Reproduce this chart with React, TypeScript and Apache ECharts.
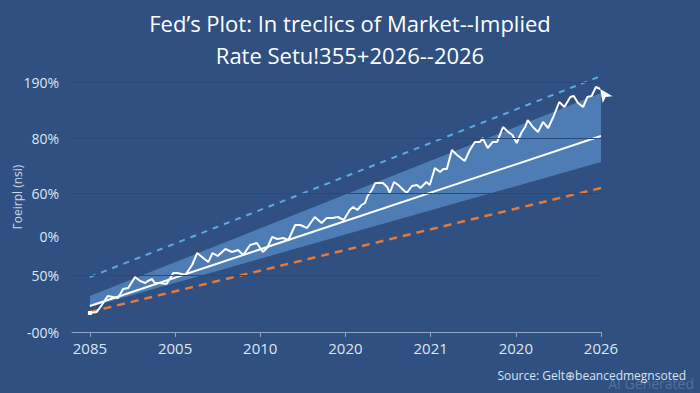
import React, { useEffect, useRef } from "react";
import * as echarts from "echarts";

const titleLines = ["Fed’s Plot: In treclics of Market--Implied", "Rate Setu!355+2026--2026"];
const xTickValues = [0, 1, 2, 3, 4, 5, 6];
const xTickLabels = ["2085", "2005", "2010", "2020", "2021", "2020", "2026"];
const yTickValues = [0, 57, 96, 139, 194, 250];
const yTickLabels = ["-00%", "50%", "0%", "60%", "80%", "190%"];
const gridValues = [57, 139, 194, 250];
const yAxisName = "Γoeirpl (nsi)";
const sourceText = "Source: Gelt⊕beancedmegnsoted";
const watermark = "AI Generated";

const upperDashed = [[0, 55], [6, 256]];
const lowerDashed = [[0, 20], [6, 144]];
const centralLine = [[0, 26], [6, 196]];
const bandLower = [[0, 25], [6, 170]];
const bandUpper = [[0, 36], [6, 239]];

const wiggleX = [
  0, 0.08, 0.14, 0.21, 0.27, 0.33, 0.39, 0.45, 0.53, 0.59, 0.65, 0.68, 0.73, 0.76, 0.82, 0.9,
  0.98, 1.03, 1.12, 1.2, 1.26, 1.33, 1.39, 1.44, 1.5, 1.59, 1.67, 1.74, 1.8, 1.88, 1.96, 2.03,
  2.08, 2.14, 2.2, 2.27, 2.33, 2.41, 2.47, 2.55, 2.64, 2.72, 2.78, 2.85, 2.91, 2.98, 3.05, 3.09,
  3.14, 3.19, 3.23, 3.26, 3.31, 3.35, 3.41, 3.44, 3.49, 3.52, 3.57, 3.62, 3.68, 3.72, 3.78, 3.84,
  3.88, 3.95, 3.99, 4.05, 4.11, 4.15, 4.19, 4.25, 4.31, 4.4, 4.46, 4.52, 4.58, 4.61, 4.67, 4.73,
  4.78, 4.85, 4.91, 4.96, 5.01, 5.07, 5.11, 5.14, 5.2, 5.26, 5.32, 5.38, 5.44, 5.51, 5.57, 5.64,
  5.68, 5.73, 5.79, 5.84, 5.89, 5.94, 5.99,
];
const wiggleY = [
  19, 20, 27, 36, 35, 34, 43, 44, 55, 51, 49, 51, 53, 49, 49, 48,
  59, 59, 57, 67, 79, 74, 70, 79, 76, 83, 80, 82, 77, 87, 89, 80,
  84, 95, 93, 94, 92, 107, 107, 104, 115, 109, 114, 114, 115, 112, 122, 125,
  122, 127, 129, 136, 142, 149, 149, 149, 145, 139, 150, 147, 142, 139, 146, 147,
  144, 150, 147, 164, 160, 163, 163, 182, 177, 171, 182, 190, 190, 194, 184, 190,
  190, 205, 200, 197, 189, 200, 205, 212, 205, 200, 210, 204, 215, 230, 225, 235,
  236, 229, 225, 235, 236, 245, 243,
];

export default function App() {
  const ref = useRef<HTMLDivElement>(null);

  useEffect(() => {
    if (!ref.current) return;
    const chart = echarts.init(ref.current, null, { renderer: "svg" });

    const n = wiggleX.length;
    const wiggleData = wiggleX.map((x, i) => {
      const item: any = { value: [x, wiggleY[i]] };
      if (i === 0) {
        item.symbol = "rect";
        item.symbolSize = 4;
      } else if (i === n - 1) {
        item.symbol = "arrow";
        item.symbolSize = [9, 13];
        item.symbolRotate = 35;
      } else {
        item.symbol = "none";
      }
      return item;
    });

    const labelColor = "#dde6f3";

    chart.setOption({
      animation: false,
      backgroundColor: "#2f5080",
      textStyle: { fontFamily: "Open Sans" },
      title: {
        text: titleLines.join("\n"),
        left: "center",
        top: 2,
        textStyle: {
          color: "#ffffff",
          fontSize: 22,
          fontWeight: "normal",
          lineHeight: 32,
          fontFamily: "Open Sans",
        },
      },
      grid: {
        left: 72,
        right: 99,
        top: 62,
        bottom: 61,
        containLabel: false,
        outerBoundsMode: "none",
      },
      xAxis: {
        type: "value",
        min: -0.21,
        max: 6,
        axisLine: { show: true, lineStyle: { color: "#8ea6c8", width: 1 } },
        axisTick: {
          show: true,
          customValues: xTickValues,
          length: 5,
          lineStyle: { color: "#8ea6c8" },
        },
        axisLabel: {
          customValues: xTickValues,
          formatter: (v: number) => {
            const idx = xTickValues.indexOf(Math.round(v));
            return idx >= 0 ? xTickLabels[idx] : "";
          },
          color: labelColor,
          fontSize: 15,
          margin: 8,
        },
        splitLine: { show: false },
      },
      yAxis: {
        type: "value",
        min: 0,
        max: 270,
        name: yAxisName,
        nameLocation: "middle",
        nameRotate: 90,
        nameGap: 49,
        nameMoveOverlap: false,
        nameTextStyle: { color: "#cbd6e8", fontSize: 12 },
        axisLine: { show: false },
        axisTick: { show: false },
        axisLabel: {
          customValues: yTickValues,
          formatter: (v: number) => {
            const idx = yTickValues.indexOf(Math.round(v));
            return idx >= 0 ? yTickLabels[idx] : "";
          },
          color: labelColor,
          fontSize: 14,
          margin: 13,
        },
        splitLine: { show: false },
      },
      graphic: [
        {
          type: "text",
          right: 14,
          top: 369,
          style: { text: sourceText, fill: "#dbe3ef", fontSize: 12, fontFamily: "Open Sans" },
        },
        {
          type: "text",
          right: 6,
          top: 376,
          style: {
            text: watermark,
            fill: "rgba(200,215,235,0.25)",
            fontSize: 14,
            fontFamily: "Open Sans",
          },
        },
      ],
      series: [
        {
          type: "line",
          name: "grid",
          data: [],
          markLine: {
            silent: true,
            symbol: "none",
            label: { show: false },
            lineStyle: { color: "#29497a", width: 1, type: "solid" },
            data: gridValues.map((v) => ({ yAxis: v })),
          },
        },
        {
          type: "custom",
          name: "band",
          data: bandLower,
          renderItem: (params: any, api: any) => {
            if (params.dataIndex !== 0) return null;
            const pts = [
              ...bandUpper.map((p) => api.coord(p)),
              ...bandLower.slice().reverse().map((p) => api.coord(p)),
            ];
            return {
              type: "polygon",
              shape: { points: pts },
              style: { fill: "#5282bb", opacity: 0.9 },
            };
          },
        },
        {
          type: "line",
          name: "upper",
          data: upperDashed,
          symbol: "none",
          lineStyle: { color: "#5fa8e6", width: 2, type: [6, 6] },
        },
        {
          type: "line",
          name: "lower",
          data: lowerDashed,
          symbol: "none",
          lineStyle: { color: "#e47a3c", width: 2.5, type: [8, 6] },
        },
        {
          type: "line",
          name: "central",
          data: centralLine,
          symbol: "none",
          lineStyle: { color: "#ffffff", width: 2 },
        },
        {
          type: "line",
          name: "implied",
          data: wiggleData,
          showSymbol: true,
          itemStyle: { color: "#ffffff" },
          lineStyle: { color: "#ffffff", width: 2 },
        },
      ],
    });

    return () => chart.dispose();
  }, []);

  return (
    <div
      ref={ref}
      style={{ position: "fixed", left: 0, top: 0, width: 700, height: 393 }}
    />
  );
}
